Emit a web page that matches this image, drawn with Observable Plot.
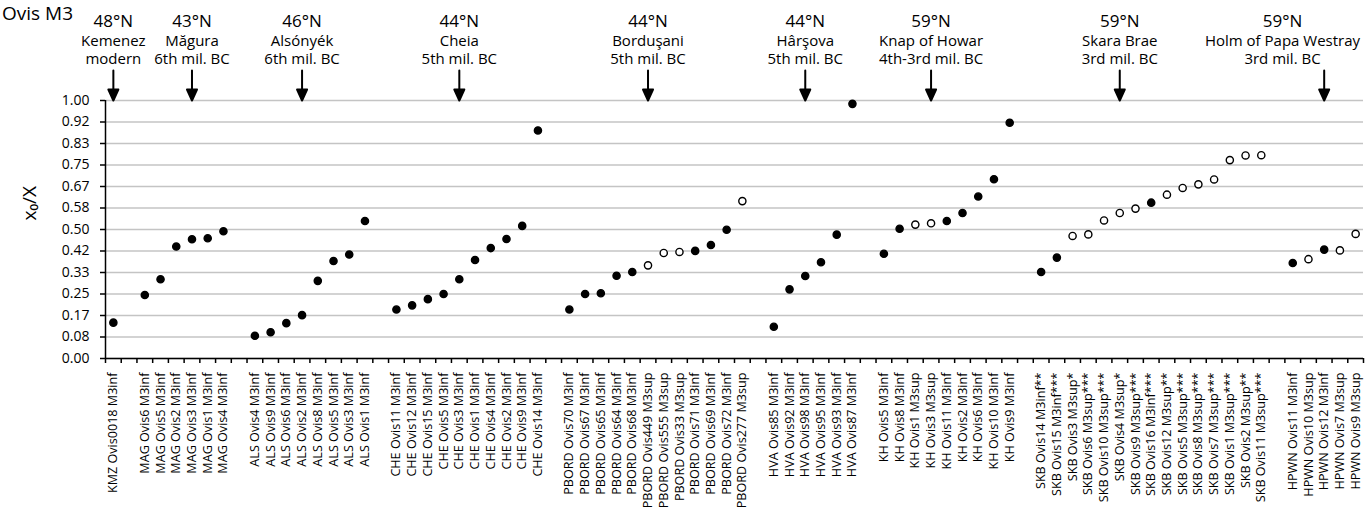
<!DOCTYPE html>
<html><head><meta charset="utf-8">
<script src="https://cdn.jsdelivr.net/npm/d3@7"></script>
<script src="https://cdn.jsdelivr.net/npm/@observablehq/plot@0.6"></script>
<style>
body{margin:0;background:#fff;font-family:"Open Sans",sans-serif;}
#wrap{position:relative;width:1367px;height:512px;overflow:hidden;}
#title{position:absolute;left:2px;top:0px;font-size:19px;line-height:26px;color:#000;z-index:2;}
</style></head><body>
<div id="wrap"><div id="title">Ovis M3</div></div>
<script>
// ---- data ----
const kmzSamples = ["KMZ Ovis0018 M3inf"];
const kmzValues = [0.139];
const magSamples = ["MAG Ovis6 M3inf","MAG Ovis5 M3inf","MAG Ovis2 M3inf","MAG Ovis3 M3inf","MAG Ovis1 M3inf","MAG Ovis4 M3inf"];
const magValues = [0.246,0.307,0.434,0.462,0.466,0.493];
const alsSamples = ["ALS Ovis4 M3inf","ALS Ovis9 M3inf","ALS Ovis6 M3inf","ALS Ovis2 M3inf","ALS Ovis8 M3inf","ALS Ovis5 M3inf","ALS Ovis3 M3inf","ALS Ovis1 M3inf"];
const alsValues = [0.088,0.102,0.137,0.168,0.301,0.378,0.403,0.533];
const cheSamples = ["CHE Ovis11 M3inf","CHE Ovis12 M3inf","CHE Ovis15 M3inf","CHE Ovis5 M3inf","CHE Ovis3 M3inf","CHE Ovis1 M3inf","CHE Ovis4 M3inf","CHE Ovis2 M3inf","CHE Ovis9 M3inf","CHE Ovis14 M3inf"];
const cheValues = [0.190,0.206,0.230,0.250,0.307,0.382,0.428,0.463,0.514,0.884];
const pbordSamples = ["PBORD Ovis70 M3inf","PBORD Ovis67 M3inf","PBORD Ovis65 M3inf","PBORD Ovis64 M3inf","PBORD Ovis68 M3inf","PBORD Ovis449 M3sup","PBORD Ovis555 M3sup","PBORD Ovis33 M3sup","PBORD Ovis71 M3inf","PBORD Ovis69 M3inf","PBORD Ovis72 M3inf","PBORD Ovis277 M3sup"];
const pbordValues = [0.190,0.250,0.253,0.321,0.335,0.361,0.409,0.413,0.417,0.440,0.499,0.610];
const hvaSamples = ["HVA Ovis85 M3inf","HVA Ovis92 M3inf","HVA Ovis98 M3inf","HVA Ovis95 M3inf","HVA Ovis93 M3inf","HVA Ovis87 M3inf"];
const hvaValues = [0.123,0.268,0.320,0.373,0.480,0.987];
const khSamples = ["KH Ovis5 M3inf","KH Ovis8 M3inf","KH Ovis1 M3sup","KH Ovis3 M3sup","KH Ovis11 M3inf","KH Ovis2 M3inf","KH Ovis6 M3inf","KH Ovis10 M3inf","KH Ovis9 M3inf"];
const khValues = [0.406,0.503,0.519,0.524,0.533,0.564,0.628,0.695,0.914];
const skbSamples = ["SKB Ovis14 M3inf**","SKB Ovis15 M3inf***","SKB Ovis3 M3sup*","SKB Ovis6 M3sup***","SKB Ovis10 M3sup***","SKB Ovis4 M3sup*","SKB Ovis9 M3sup***","SKB Ovis16 M3inf***","SKB Ovis12 M3sup**","SKB Ovis5 M3sup***","SKB Ovis8 M3sup***","SKB Ovis7 M3sup***","SKB Ovis1 M3sup***","SKB Ovis2 M3sup**","SKB Ovis11 M3sup***"];
const skbValues = [0.335,0.391,0.475,0.481,0.535,0.564,0.581,0.604,0.635,0.661,0.675,0.694,0.769,0.787,0.788];
const hpwnSamples = ["HPWN Ovis11 M3inf","HPWN Ovis10 M3sup","HPWN Ovis12 M3inf","HPWN Ovis7 M3sup","HPWN Ovis9 M3sup"];
const hpwnValues = [0.370,0.385,0.422,0.419,0.483];

const siteLatitudes = ["48°N","43°N","46°N","44°N","44°N","44°N","59°N","59°N","59°N"];
const siteNames = ["Kemenez","Măgura","Alsónyék","Cheia","Borduşani","Hârşova","Knap of Howar","Skara Brae","Holm of Papa Westray"];
const sitePeriods = ["modern","6th mil. BC","6th mil. BC","5th mil. BC","5th mil. BC","5th mil. BC","4th-3rd mil. BC","3rd mil. BC","3rd mil. BC"];
const siteArrowSamples = ["KMZ Ovis0018 M3inf","MAG Ovis3 M3inf","ALS Ovis2 M3inf","CHE Ovis3 M3inf","PBORD Ovis449 M3sup","HVA Ovis98 M3inf","KH Ovis3 M3sup","SKB Ovis4 M3sup*","HPWN Ovis12 M3inf"];

const yTickLabels = ["0.00","0.08","0.17","0.25","0.33","0.42","0.50","0.58","0.67","0.75","0.83","0.92","1.00"];
const yLabel = "x₀/X";
const chartTitle = "Ovis M3";

// ---- build table ----
const groups = [
  [kmzSamples, kmzValues],[magSamples, magValues],[alsSamples, alsValues],
  [cheSamples, cheValues],[pbordSamples, pbordValues],[hvaSamples, hvaValues],
  [khSamples, khValues],[skbSamples, skbValues],[hpwnSamples, hpwnValues]
];
const rows = [];
let slot = 0;
groups.forEach(([s, v], gi) => {
  if (gi > 0) slot++; // empty category between sites
  s.forEach((name, j) => {
    rows.push({name, value: v[j], pos: slot + 0.5, open: name.includes("M3sup")});
    slot++;
  });
});
const slotCount = slot;
const boundaries = d3.range(slotCount + 1);
const posByName = new Map(rows.map(d => [d.name, d.pos]));
const labelByPos = new Map(rows.map(d => [d.pos, d.name]));
const sites = siteNames.map((name, i) => ({name, lat: siteLatitudes[i], period: sitePeriods[i], pos: posByName.get(siteArrowSamples[i])}));
const yTicks = yTickLabels.map((_, i) => i / 12);
document.getElementById("title").textContent = chartTitle;

const arrowShape = {
  draw(ctx, l) {
    const h = 11, w = 5;
    ctx.moveTo(0, 0);
    ctx.lineTo(0, -l + h);
    ctx.moveTo(-w, -l + h);
    ctx.lineTo(w, -l + h);
    ctx.lineTo(0, -l);
    ctx.closePath();
  }
};

const last = sites.length - 1;
function siteText(filter, extra) {
  return [
    Plot.text(sites, {filter, ...extra, text: "lat", dy: -86, fontSize: 17}),
    Plot.text(sites, {filter, ...extra, text: "name", dy: -65, fontSize: 15}),
    Plot.text(sites, {filter, ...extra, text: "period", dy: -47, fontSize: 15})
  ];
}

const chart = Plot.plot({
  width: 1367, height: 512,
  marginTop: 100, marginBottom: 154, marginLeft: 105, marginRight: 4,
  style: {fontFamily: "'Open Sans', sans-serif", color: "black", background: "white"},
  x: {domain: [0, slotCount]},
  y: {domain: [0, 1]},
  color: {type: "identity"},
  marks: [
    Plot.ruleY(yTicks, {stroke: "#c4c4c4", strokeWidth: 1.5}),
    Plot.axisY({ticks: yTicks, tickFormat: d => yTickLabels[Math.round(d * 12)], tickSize: 5, tickPadding: 11, fontSize: 14, strokeWidth: 1.5, label: null}),
    Plot.axisX({ticks: boundaries, tickSize: 5, tickFormat: () => "", strokeWidth: 1.5, label: null}),
    Plot.axisX({ticks: rows.map(d => d.pos), tickFormat: d => labelByPos.get(d), tickRotate: -90, tickSize: 0, tickPadding: 14, fontSize: 12.6, label: null}),
    Plot.ruleX([0], {strokeWidth: 1.5}),
    Plot.ruleY([0], {strokeWidth: 1.5}),
    Plot.text([yLabel], {frameAnchor: "left", text: d => d, rotate: -90, dx: -76, dy: -9, fontSize: 19}),
    Plot.vector(sites, {x: "pos", frameAnchor: "top", length: 30, rotate: 180, anchor: "end", shape: arrowShape, fill: "black", stroke: "black", strokeWidth: 2}),
    ...siteText((d, i) => i < last, {x: "pos", frameAnchor: "top"}),
    ...siteText((d, i) => i === last, {frameAnchor: "top-right", textAnchor: "middle", dx: -81}),
    Plot.dot(rows, {x: "pos", y: "value", r: 3.6, fill: d => d.open ? "white" : "black", stroke: "black", strokeWidth: 1.4})
  ]
});
document.getElementById("wrap").appendChild(chart);
</script>
</body></html>
